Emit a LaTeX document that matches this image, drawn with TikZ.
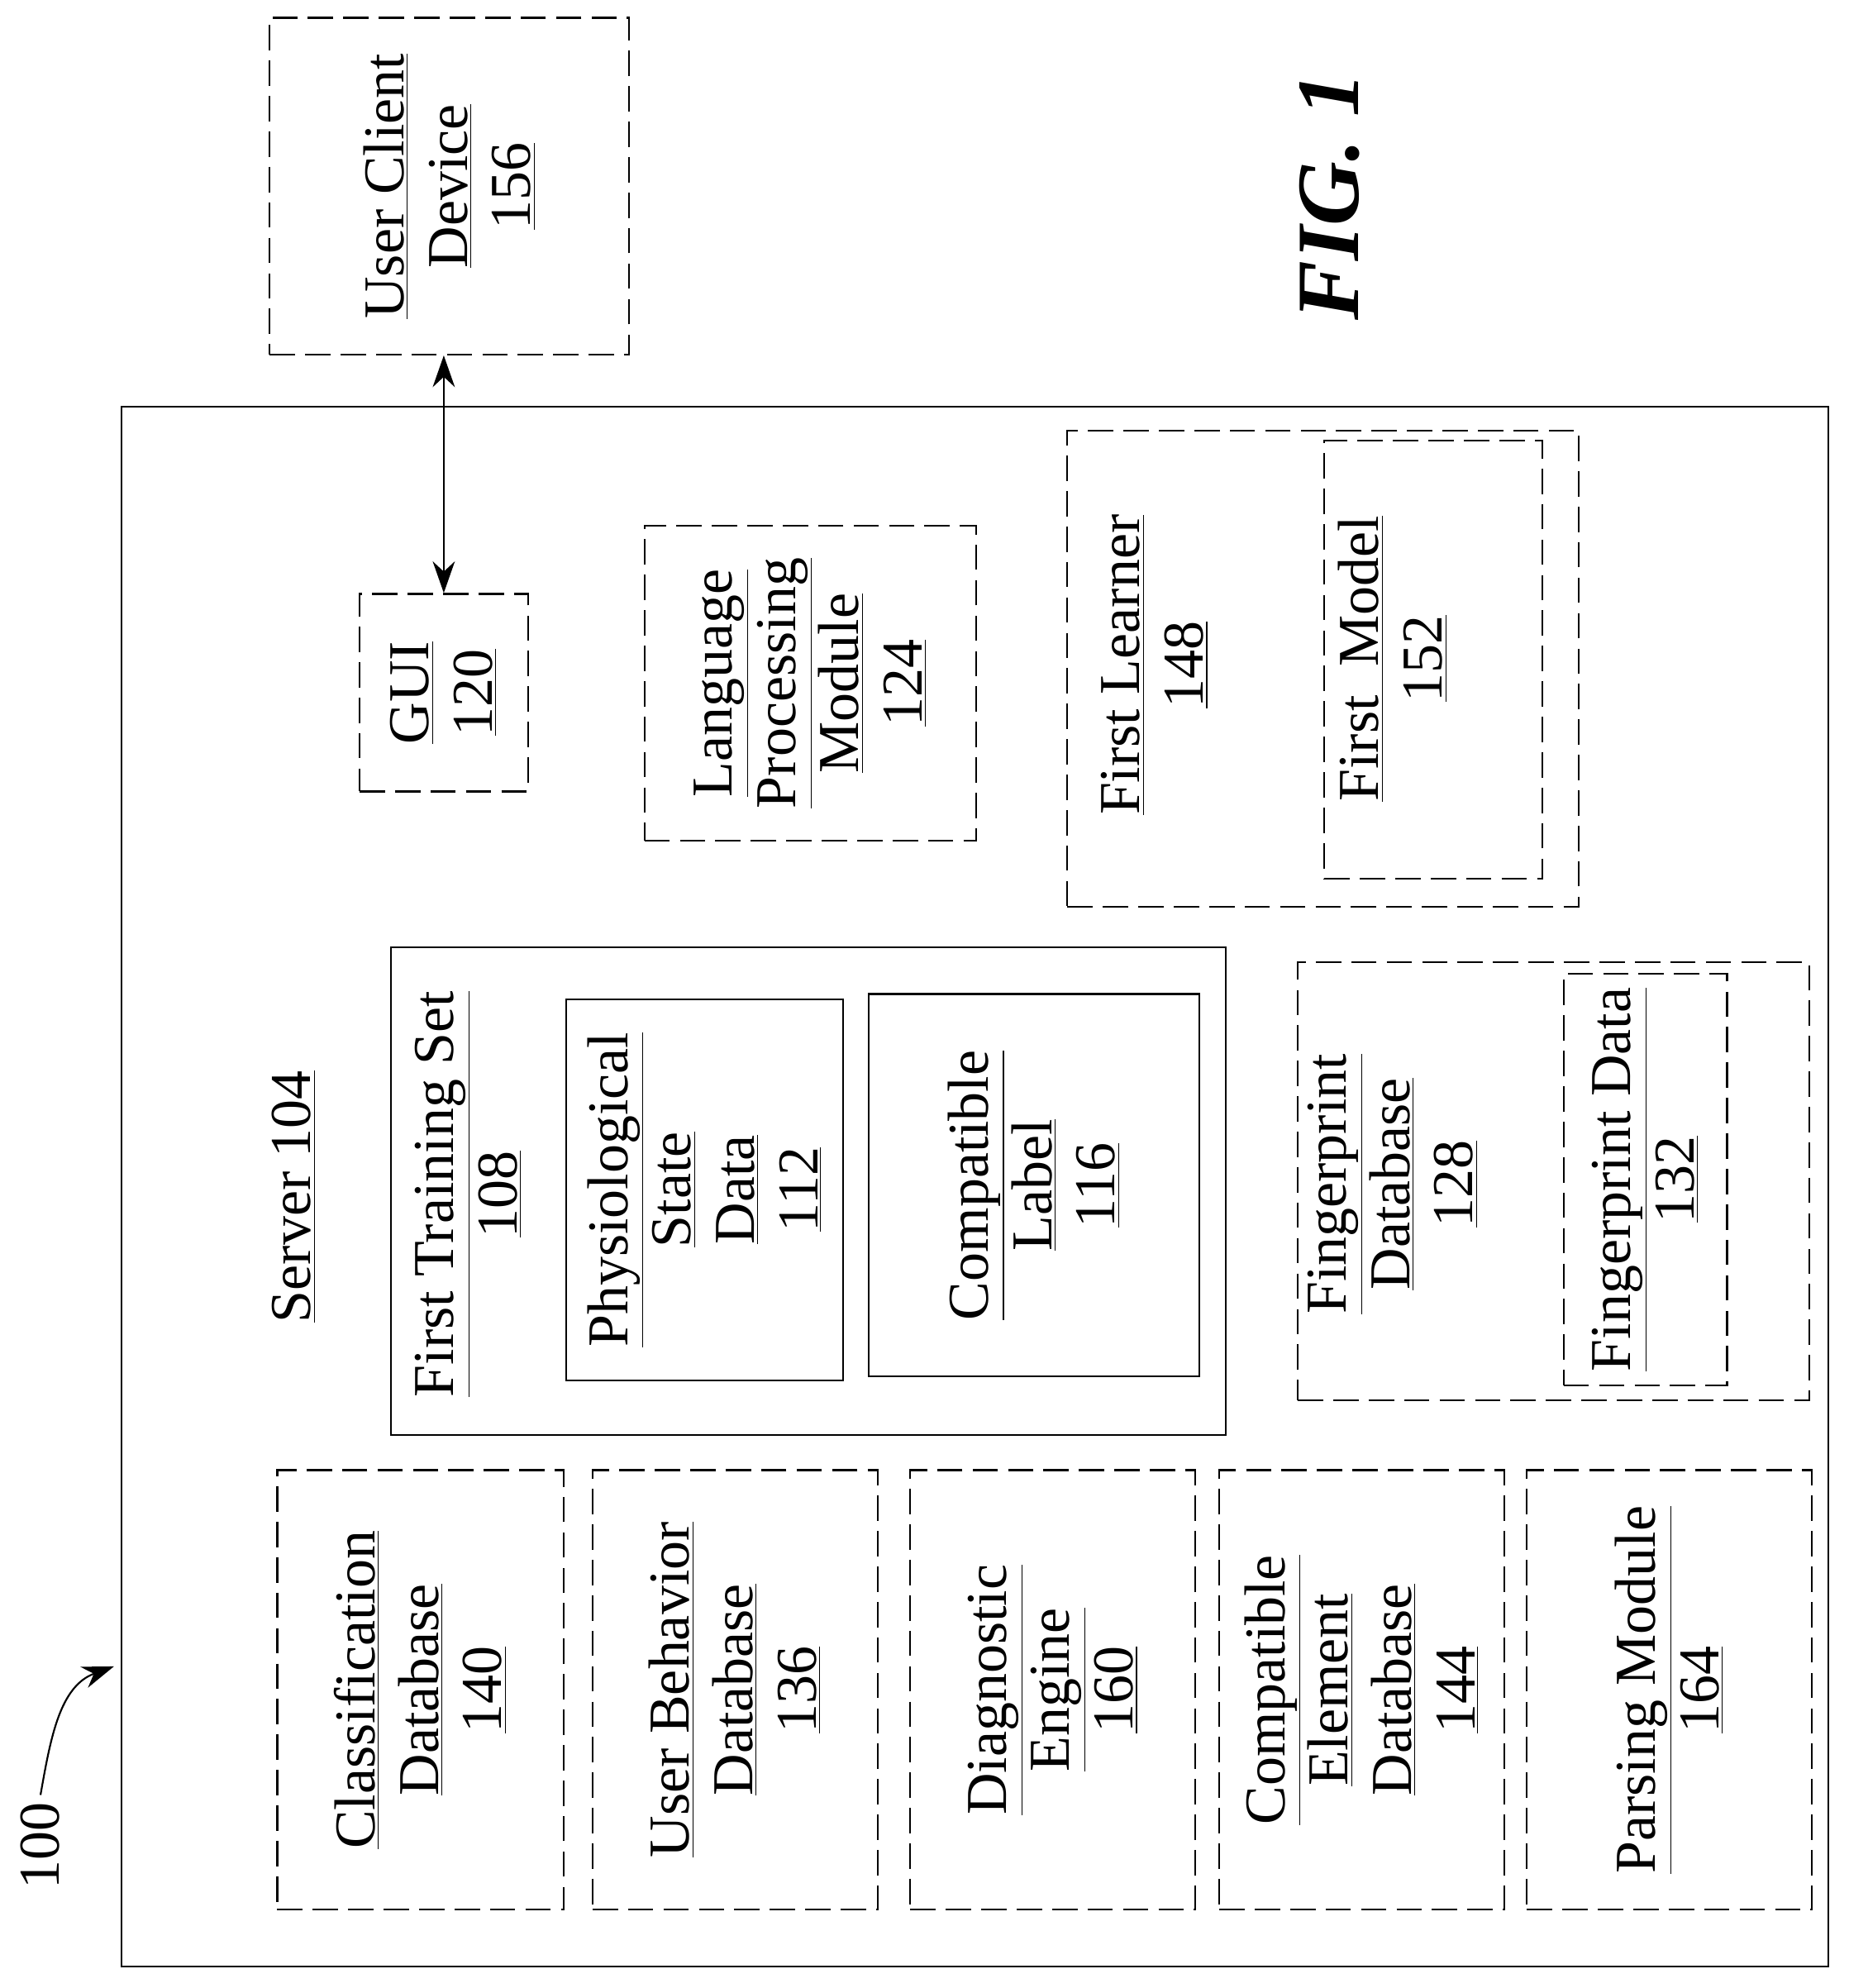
\documentclass[tikz,border=0pt]{standalone}
\usepackage{fontspec}
\setmainfont{Liberation Serif}
\usetikzlibrary{positioning}
\usetikzlibrary{arrows}
\usetikzlibrary{arrows.meta}
\usetikzlibrary{fit}
\tikzset {
  x=0.02cm, y=-0.02cm,
  >={Stealth[length=5mm,width=3.5mm]},
  % dashed component boxes
  dbox/.style = {draw, thick, inner sep=0pt, dash pattern=on 0.4cm off 0.16cm},
  % solid boxes
  sbox/.style = {draw, thick, inner sep=0pt},
  % rotated labels
  lbl/.style = {rotate=90, align=center, font=\fontsize{26}{28.5}\selectfont},
}
\newcommand{\ul}[1]{\underline{#1}}

\begin{document}
\begin{tikzpicture}
  \useasboundingbox (0,0) rectangle (1460,1570);

  % outside the server
  \node[dbox, fit={(213,14) (497,280)}] (ucd) {};
  \node[lbl] at (ucd.center) {\ul{User Client}\\\ul{Device}\\\ul{156}};
  \node[rotate=90, font=\fontsize{40}{46}\selectfont\bfseries\itshape] (fig) at (1050,155) {FIG. 1};

  % server
  \node[sbox, fit={(96,321) (1444,1553)}] (server) {};
  \node[lbl] at (232,945) {\ul{Server 104}};

  \node[dbox, fit={(284,469) (417,625)}] (gui) {};
  \node[lbl] at (gui.center) {\ul{GUI}\\\ul{120}};
  \draw[<->, thick] (ucd.south -| gui.north) -- (gui.north);

  \node[dbox, fit={(509,415) (771,664)}] (lpm) {};
  \node[lbl] at (lpm.center) {\ul{Language}\\\ul{Processing}\\\ul{Module}\\\ul{124}};

  \node[dbox, fit={(843,340) (1247,716)}] (learner) {};
  \node[lbl] at (912,525) {\ul{First Learner}\\\ul{148}};
  \node[dbox, fit={(1046,348) (1218,694)}] (model) {};
  \node[lbl] at (1100,520) {\ul{First\ \ Model}\\\ul{152}};

  % training set
  \node[sbox, fit={(309,748) (968,1133)}] (train) {};
  \node[lbl] at (370,943) {\ul{First Training Set}\\\ul{108}};
  \node[sbox, fit={(447,789) (666,1090)}] (phys) {};
  \node[lbl] at (phys.center) {\ul{Physiological}\\\ul{State}\\\ul{Data}\\\ul{112}};
  \node[sbox, fit={(686,785) (947,1087)}] (label) {};
  \node[lbl] at (label.center) {\ul{Compatible}\\\ul{Label}\\\ul{116}};

  \node[dbox, fit={(1025,760) (1429,1106)}] (fpdb) {};
  \node[lbl] at (1100,935) {\ul{Fingerprint}\\\ul{Database}\\\ul{128}};
  \node[dbox, fit={(1235,769) (1364,1094)}] (fpdata) {};
  \node[lbl] at (fpdata.center) {\ul{Fingerprint Data}\\\ul{132}};

  % bottom row
  \node[dbox, fit={(219,1161) (445,1508)}] (cls) {};
  \node[lbl] at (cls.center) {\ul{Classification}\\\ul{Database}\\\ul{140}};
  \node[dbox, fit={(468,1161) (693,1508)}] (ubd) {};
  \node[lbl] at (ubd.center) {\ul{User Behavior}\\\ul{Database}\\\ul{136}};
  \node[dbox, fit={(719,1161) (944,1508)}] (diag) {};
  \node[lbl] at (diag.center) {\ul{Diagnostic}\\\ul{Engine}\\\ul{160}};
  \node[dbox, fit={(963,1161) (1188,1508)}] (ced) {};
  \node[lbl] at (ced.center) {\ul{Compatible}\\\ul{Element}\\\ul{Database}\\\ul{144}};
  \node[dbox, fit={(1206,1161) (1431,1508)}] (parse) {};
  \node[lbl] at (parse.center) {\ul{Parsing Module}\\\ul{164}};

  % reference numeral
  \node[lbl] (ref) at (32,1458) {100};
  \coordinate (tip) at (90,1316);
  \draw[->, thick] (ref.east) to[out=80, in=200] (tip);
\end{tikzpicture}
\end{document}
